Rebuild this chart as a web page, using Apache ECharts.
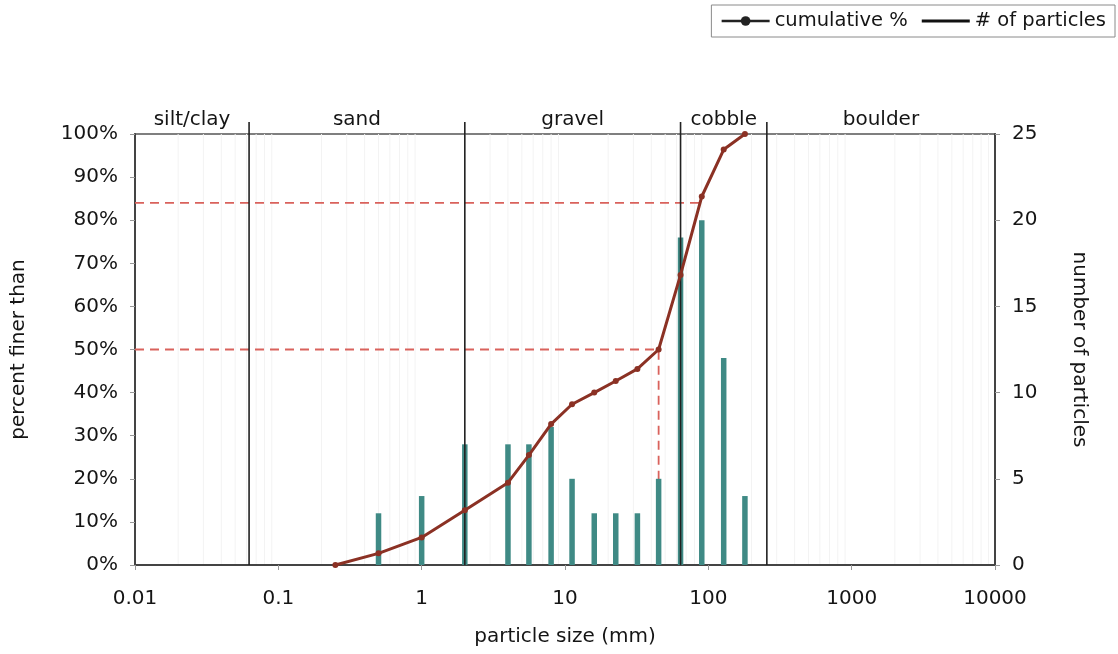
<!DOCTYPE html>
<html>
<head>
<meta charset="utf-8">
<script src="https://cdn.jsdelivr.net/npm/echarts@6/dist/echarts.min.js"></script>
<style>
  html, body { margin: 0; padding: 0; background: #fff; }
  #chart { width: 1118px; height: 654px; }
</style>
</head>
<body>
<div id="chart"></div>
<script>
// Pebble count: particle size classes (mm) and number of particles in each
const sizes  = [0.5, 1, 2, 4, 5.6, 8, 11.2, 16, 22.6, 32, 45, 64, 90, 128, 180];
const counts = [3, 4, 7, 7, 7, 8, 5, 3, 3, 3, 5, 19, 20, 12, 4];

// Cumulative percent finer than each size
const cumSizes = [0.25, 0.5, 1, 2, 4, 5.6, 8, 11.2, 16, 22.6, 32, 45, 64, 90, 128, 180];
const cumPct   = [0, 2.7, 6.4, 12.7, 19.1, 25.5, 32.7, 37.3, 40.0, 42.7, 45.5, 50.0, 67.3, 85.5, 96.4, 100];

// Characteristic sizes (mm)
const d50 = 45;
const d84 = 87.5;

// Size class boundaries (mm) and class names
const classBounds = [0.01, 0.0625, 2, 64, 256, 10000];
const classNames  = ['silt/clay', 'sand', 'gravel', 'cobble', 'boulder'];

const FONT = 'DejaVu Sans';
const TEXT = '#151515';
const FS = 20;

// faint log-cycle gridlines (2..9 within each decade)
const minorLines = [];
for (let d = -2; d < 4; d++) {
  for (let k = 2; k < 10; k++) minorLines.push(k * Math.pow(10, d));
}

function fmtLog(v) {
  return String(Number(Number(v).toPrecision(4)));
}

const chart = echarts.init(document.getElementById('chart'), null, { renderer: 'canvas' });

const option = {
  animation: false,
  backgroundColor: '#ffffff',
  textStyle: { fontFamily: FONT, color: TEXT },
  grid: {
    left: 135, right: 123, top: 134, bottom: 89,
    show: true, borderColor: '#555', borderWidth: 1.5, backgroundColor: 'transparent'
  },
  legend: {
    right: 3, top: 5,
    padding: [6, 9],
    itemGap: 14,
    itemWidth: 48, itemHeight: 12,
    borderColor: '#8a8a8a', borderWidth: 1,
    textStyle: { fontFamily: FONT, fontSize: 19.5, color: TEXT },
    data: [
      { name: 'cumulative %', itemStyle: { color: '#222' }, lineStyle: { color: '#222', width: 2.5 } },
      { name: '# of particles', icon: 'path://M0,0H48V3H0Z', itemStyle: { color: '#111' } }
    ]
  },
  xAxis: {
    type: 'log', logBase: 10, min: 0.01, max: 10000,
    splitLine: { show: false },
    axisLine: { lineStyle: { color: '#444', width: 2 } },
    axisTick: { show: true, length: 5, lineStyle: { color: '#999' } },
    axisLabel: { margin: 24, fontFamily: FONT, fontSize: FS, color: TEXT, formatter: fmtLog },
    name: 'particle size (mm)', nameLocation: 'middle', nameGap: 62,
    nameTextStyle: { fontFamily: FONT, fontSize: FS, color: TEXT }
  },
  yAxis: [
    {
      type: 'value', min: 0, max: 100, interval: 10,
      splitLine: { show: false },
      axisLine: { show: true, lineStyle: { color: '#444', width: 2 } },
      axisTick: { show: true, length: 5, lineStyle: { color: '#999' } },
      axisLabel: { margin: 17, fontFamily: FONT, fontSize: FS, color: TEXT, formatter: '{value}%' },
      name: 'percent finer than', nameLocation: 'middle', nameRotate: 90, nameGap: 106,
      nameTextStyle: { fontFamily: FONT, fontSize: FS, color: TEXT }
    },
    {
      type: 'value', position: 'right', min: 0, max: 25, interval: 5,
      splitLine: { show: false },
      axisLine: { show: true, lineStyle: { color: '#444', width: 2 } },
      axisTick: { show: true, length: 5, lineStyle: { color: '#999' } },
      axisLabel: { margin: 17, fontFamily: FONT, fontSize: FS, color: TEXT },
      name: 'number of particles', nameLocation: 'middle', nameRotate: -90, nameGap: 74,
      nameTextStyle: { fontFamily: FONT, fontSize: FS, color: TEXT }
    }
  ],
  series: [
    {
      // faint log-cycle gridlines
      type: 'custom', name: 'grid', silent: true, z: 0,
      data: minorLines.map(v => [v, 0]),
      encode: { x: 0, y: 1 },
      renderItem(params, api) {
        const b = api.coord([api.value(0), 0]);
        const t = api.coord([api.value(0), 100]);
        return { type: 'line', shape: { x1: b[0], y1: b[1], x2: t[0], y2: t[1] },
                 style: { stroke: '#f3f3f3', lineWidth: 1 } };
      }
    },
    {
      type: 'line', name: 'D50', silent: true, z: 2,
      data: [[0.01, 50], [d50, 50], [d50, 0]],
      symbol: 'none',
      lineStyle: { color: '#d9625c', width: 1.8, type: [9, 6] }
    },
    {
      type: 'line', name: 'D84', silent: true, z: 2,
      data: [[0.01, 84], [d84, 84]],
      symbol: 'none',
      lineStyle: { color: '#d9625c', width: 1.8, type: [9, 6] }
    },
    {
      // particle counts per size class
      type: 'custom', name: '# of particles', yAxisIndex: 1, z: 3,
      itemStyle: { color: '#3f8a85' },
      data: sizes.map((s, i) => [s, counts[i]]),
      encode: { x: 0, y: 1 },
      renderItem(params, api) {
        const top = api.coord([api.value(0), api.value(1)]);
        const base = api.coord([api.value(0), 0]);
        return { type: 'rect',
                 shape: { x: top[0] - 2.75, y: top[1], width: 5.5, height: base[1] - top[1] },
                 style: { fill: '#3f8a85' } };
      }
    },
    {
      // size class boundaries
      type: 'custom', name: 'classes', silent: true, clip: false, z: 4,
      data: classBounds.slice(1, -1).map(b => [b, 0]),
      encode: { x: 0, y: 1 },
      renderItem(params, api) {
        const b = api.coord([api.value(0), 0]);
        const t = api.coord([api.value(0), 100]);
        return { type: 'line', shape: { x1: b[0], y1: b[1], x2: t[0], y2: t[1] - 12 },
                 style: { stroke: '#222', lineWidth: 1.6 } };
      }
    },
    {
      // size class names above the plot
      type: 'custom', name: 'classNames', silent: true, clip: false, z: 4,
      data: classNames.map((n, i) => [Math.sqrt(classBounds[i] * classBounds[i + 1]), 100]),
      encode: { x: 0, y: 1 },
      renderItem(params, api) {
        const p = api.coord([api.value(0), 100]);
        return { type: 'text', x: p[0], y: p[1] - 4,
                 style: { text: classNames[params.dataIndex], fontFamily: FONT, fontSize: FS,
                          fill: TEXT, align: 'center', verticalAlign: 'bottom' } };
      }
    },
    {
      type: 'line', name: 'cumulative %', z: 6,
      data: cumSizes.map((s, i) => [s, cumPct[i]]),
      symbol: 'circle', symbolSize: 6,
      lineStyle: { color: '#8b3124', width: 3 },
      itemStyle: { color: '#8b3124' }
    }
  ]
};

chart.setOption(option);
</script>
</body>
</html>
